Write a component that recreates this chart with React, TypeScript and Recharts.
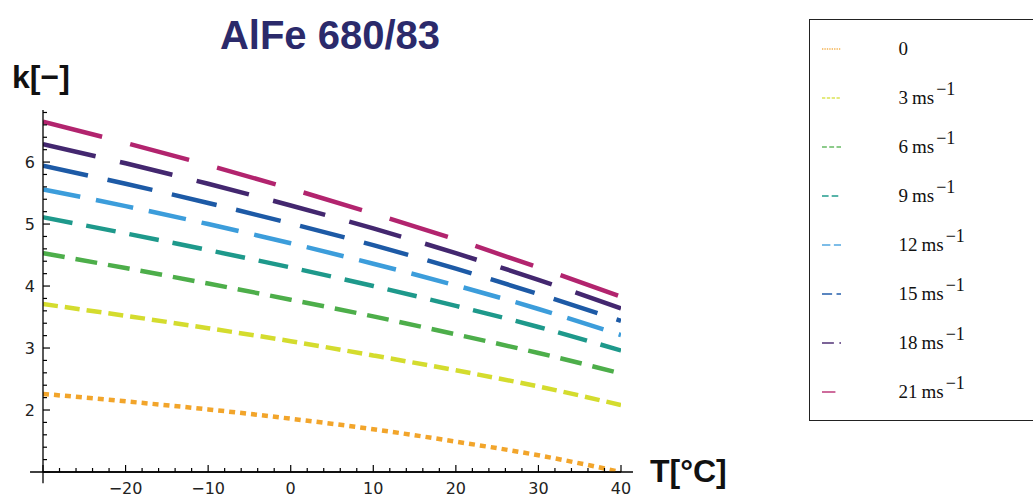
import React from 'react';
import { LineChart, Line, XAxis, YAxis, Legend, ReferenceLine } from 'recharts';

// ---- data ----
const temps = [-30, -20, -10, 0, 10, 20, 30, 40];
const speeds = [0, 3, 6, 9, 12, 15, 18, 21];

const k0 = [2.26, 2.14, 2.01, 1.86, 1.69, 1.49, 1.27, 1.0];
const k3 = [3.71, 3.52, 3.32, 3.11, 2.88, 2.64, 2.38, 2.08];
const k6 = [4.53, 4.29, 4.04, 3.78, 3.51, 3.22, 2.92, 2.59];
const k9 = [5.11, 4.85, 4.58, 4.3, 4.0, 3.68, 3.34, 2.96];
const k12 = [5.56, 5.29, 5.0, 4.69, 4.36, 4.01, 3.63, 3.21];
const k15 = [5.94, 5.65, 5.34, 5.01, 4.66, 4.28, 3.87, 3.44];
const k18 = [6.29, 5.98, 5.65, 5.3, 4.93, 4.53, 4.1, 3.64];
const k21 = [6.65, 6.31, 5.95, 5.57, 5.17, 4.75, 4.3, 3.83];

const seriesValues = [k0, k3, k6, k9, k12, k15, k18, k21];
const seriesColors = ['#F2A52B', '#D4DC2E', '#4DAE4A', '#1E998B', '#3C9DDB', '#1D5AA6', '#43276F', '#B2246E'];
const legendColors = ['#F6C47A', '#E4EA7E', '#8CCB8A', '#58B4A9', '#7DBDE8', '#5A86C0', '#7C6498', '#CE6C9C'];
const seriesDashes = ['6 5', '15 7', '22 11', '30 14', '38 16', '46 20', '54 25', '61 29'];

const xTicks = [-30, -28, -26, -24, -22, -20, -18, -16, -14, -12, -10, -8, -6, -4, -2, 0, 2, 4, 6, 8, 10, 12, 14, 16, 18, 20, 22, 24, 26, 28, 30, 32, 34, 36, 38, 40];
const xLabels = [-20, -10, 0, 10, 20, 30, 40];
const yTicks = [1, 1.2, 1.4, 1.6, 1.8, 2, 2.2, 2.4, 2.6, 2.8, 3, 3.2, 3.4, 3.6, 3.8, 4, 4.2, 4.4, 4.6, 4.8, 5, 5.2, 5.4, 5.6, 5.8, 6, 6.2, 6.4, 6.6, 6.8];
const yLabels = [2, 3, 4, 5, 6];

const titleText = 'AlFe 680/83';
const yAxisTitle = 'k[−]';
const xAxisTitle = 'T[°C]';

const data = temps.map((t, i) => {
  const row: Record<string, number> = { T: t };
  speeds.forEach((s, j) => {
    row['s' + s] = seriesValues[j][i];
  });
  return row;
});

const fmt = (v: number) => (v < 0 ? '−' + Math.abs(v) : String(v));
const tickFont = 'DejaVu Sans, Verdana, sans-serif';

const XTick = (props: any) => {
  const { x, y, payload } = props;
  const v = payload.value;
  const major = Math.abs(v % 10) < 1e-6;
  const labeled = xLabels.indexOf(v) >= 0;
  return (
    <g>
      <line x1={x} x2={x} y1={y} y2={y - (major ? 7 : 4)} stroke="#000" strokeWidth={1.2} />
      {labeled && (
        <text x={x} y={y + 22} textAnchor="middle" fontFamily={tickFont} fontSize={16} fill="#222">
          {fmt(v)}
        </text>
      )}
    </g>
  );
};

const YTick = (props: any) => {
  const { x, y, payload } = props;
  const v = payload.value;
  const major = Math.abs(v - Math.round(v)) < 1e-6;
  const labeled = yLabels.some((l) => Math.abs(l - v) < 1e-6);
  return (
    <g>
      <line x1={x} x2={x + (major ? 7 : 4)} y1={y} y2={y} stroke="#000" strokeWidth={1.2} />
      {labeled && (
        <text x={x - 8} y={y + 6} textAnchor="end" fontFamily={tickFont} fontSize={16} fill="#222">
          {fmt(Math.round(v))}
        </text>
      )}
    </g>
  );
};

const scaleDash = (d: string, f: number) =>
  d
    .split(' ')
    .map((n) => (parseFloat(n) * f).toFixed(2))
    .join(' ');

const LegendContent = (props: any) => {
  const payload: any[] = props.payload || [];
  const ordered = speeds
    .map((s) => payload.find((e) => e.dataKey === 's' + s))
    .filter(Boolean);
  return (
    <div
      style={{
        border: '1.5px solid #222',
        background: '#fff',
        boxSizing: 'border-box',
        width: 260,
        paddingTop: 4,
        paddingBottom: 4,
      }}
    >
      {ordered.map((entry: any) => {
        const idx = speeds.findIndex((s) => 's' + s === entry.dataKey);
        const sp = speeds[idx];
        return (
          <div key={entry.dataKey} style={{ height: 49, display: 'flex', alignItems: 'center' }}>
            <svg width={19} height={6} style={{ marginLeft: 11.5, flex: 'none' }}>
              <line x1={0} x2={19} y1={3} y2={3} stroke={legendColors[idx]} strokeWidth={2} strokeDasharray={scaleDash(seriesDashes[idx], 0.22)} />
            </svg>
            <span
              style={{
                marginLeft: 58,
                fontFamily: "'Liberation Serif', 'Times New Roman', serif",
                fontSize: 19,
                color: '#111',
                whiteSpace: 'nowrap',
                lineHeight: '20px',
              }}
            >
              {sp}
              {sp !== 0 && (
                <>
                  <span style={{ marginLeft: 4 }}>ms</span>
                  <span style={{ position: 'relative', top: -9, marginLeft: 2, fontSize: 18 }}>−1</span>
                </>
              )}
            </span>
          </div>
        );
      })}
    </div>
  );
};

export default function App() {
  return (
    <div style={{ position: 'absolute', left: 0, top: 0, width: 1033, height: 497, background: '#fff', overflow: 'hidden' }}>
      <LineChart width={1033} height={497} data={data} margin={{ top: 110, right: 412, bottom: 24, left: 42 }}>
        <XAxis
          dataKey="T"
          type="number"
          domain={[-30, 40]}
          ticks={xTicks}
          interval={0}
          tickSize={0}
          tickMargin={0}
          tickLine={false}
          tick={<XTick />}
          height={1}
          axisLine={{ stroke: '#000', strokeWidth: 1.3 }}
          allowDataOverflow
        />
        <YAxis
          type="number"
          domain={[1, 6.84]}
          ticks={yTicks}
          interval={0}
          tickSize={0}
          tickMargin={0}
          tickLine={false}
          tick={<YTick />}
          width={1}
          axisLine={{ stroke: '#000', strokeWidth: 1.3 }}
          allowDataOverflow
        />
        <ReferenceLine
          segment={[{ x: -31.57, y: 1 }, { x: 41.45, y: 1 }]}
          stroke="#000"
          strokeWidth={1.3}
          ifOverflow="visible"
        />
        <ReferenceLine
          segment={[{ x: -30, y: 0.82 }, { x: -30, y: 1 }]}
          stroke="#000"
          strokeWidth={1.3}
          ifOverflow="visible"
        />
        {speeds.map((s, j) => (
          <Line
            key={s}
            dataKey={'s' + s}
            name={String(s)}
            type="monotone"
            stroke={seriesColors[j]}
            strokeWidth={4.5}
            strokeDasharray={seriesDashes[j]}
            strokeLinecap="butt"
            dot={false}
            activeDot={false}
            isAnimationActive={false}
          />
        ))}
        <Legend
          layout="vertical"
          align="center"
          verticalAlign="middle"
          content={<LegendContent />}
          wrapperStyle={{ left: 809, top: 19, width: 260, height: 400 }}
        />
      </LineChart>
      <div
        style={{
          position: 'absolute',
          left: 0,
          width: 660,
          top: 15,
          textAlign: 'center',
          fontFamily: "'Liberation Sans', Arial, sans-serif",
          fontWeight: 'bold',
          fontSize: 40,
          lineHeight: '40px',
          color: '#2B2A6B',
          whiteSpace: 'nowrap',
        }}
      >
        {titleText}
      </div>
      <div
        style={{
          position: 'absolute',
          left: 12,
          top: 61,
          fontFamily: "'Liberation Sans', Arial, sans-serif",
          fontWeight: 'bold',
          fontSize: 32,
          lineHeight: '32px',
          color: '#111',
          whiteSpace: 'nowrap',
        }}
      >
        {yAxisTitle}
      </div>
      <div
        style={{
          position: 'absolute',
          left: 650,
          top: 455,
          fontFamily: "'Liberation Sans', Arial, sans-serif",
          fontWeight: 'bold',
          fontSize: 32,
          lineHeight: '32px',
          color: '#111',
          whiteSpace: 'nowrap',
        }}
      >
        {xAxisTitle}
      </div>
    </div>
  );
}
